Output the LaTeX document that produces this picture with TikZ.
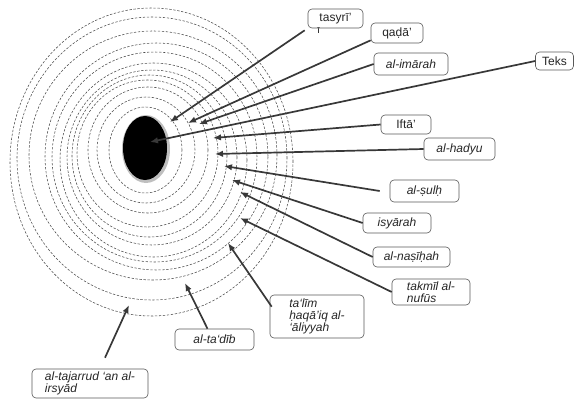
\documentclass[tikz,border=0pt]{standalone}
\usepackage{fontspec}
\setmainfont{Liberation Sans}
\usetikzlibrary{arrows.meta}

\newcommand{\tagfont}{\fontsize{12}{12}\selectfont}

\begin{document}
\begin{tikzpicture}[x=1pt,y=-1pt]
	\tikzset{ring/.style={draw=black!70, line width=0.55pt, dash pattern=on 2.4pt off 1.6pt}}
	\tikzset{tag/.style={draw=black!65, line width=0.6pt, rounded corners=4pt, fill=white,
			inner xsep=3pt, inner ysep=1pt, text=black!85, align=left, font=\tagfont}}
	\tikzset{itag/.style={tag, font=\tagfont\itshape}}
	\tikzset{pointer/.style={draw=black!78, line width=1.7pt, -{Latex[length=8pt,width=6.5pt]}}}
	\useasboundingbox (0,0) rectangle (574,399);
	% dashed rings round the core
	\foreach \cx/\cy/\rx/\ry in {145.5/150/36.5/43, 146/150/49/53, 148/150/60/63,
			147.5/153.5/70.5/73.5, 149.5/156/77.5/81, 152/157.5/85/87.5, 153.5/160/93.5/97,
			154.5/157/102.5/105, 156.5/156.5/111.5/113.5, 153/155.5/124/124.5,
			152/158.5/135/141.5, 151.5/162/141.5/154}
	\draw[ring] (\cx,\cy) ellipse [x radius=\rx pt, y radius=\ry pt];
	% core
	\fill[black!25] (146,149) ellipse [x radius=24pt, y radius=34pt];
	\fill[black] (145,148) ellipse [x radius=22pt, y radius=32pt];
	% labels
	\node[tag, minimum width=55pt, minimum height=19pt,
		label={[inner sep=0pt, font=\fontsize{9}{9}\selectfont, xshift=-17pt, yshift=1pt]below:ī}]
		(tasyri) at (335.5,18.5) {tasyrī’};
	\node[tag, minimum width=52pt, minimum height=20pt] (qada) at (397,33) {qaḍā’};
	\node[itag, minimum width=74pt, minimum height=22pt] (imarah) at (411,64) {al-imārah};
	\node[tag, minimum width=38pt, minimum height=18pt] (teks) at (554.5,61) {Teks};
	\node[tag, minimum width=50pt, minimum height=19pt] (ifta) at (406,124.5) {Iftā’};
	\node[itag, minimum width=71pt, minimum height=22pt] (hadyu) at (459.5,149) {al-hadyu};
	\node[itag, minimum width=69pt, minimum height=22pt] (sulh) at (424.5,191) {al-ṣulḥ};
	\node[itag, minimum width=68pt, minimum height=20pt] (isyarah) at (397,223) {isyārah};
	\node[itag, minimum width=77pt, minimum height=20pt] (nasihah) at (411.5,257) {al-naṣīḥah};
	\node[itag, minimum width=78pt, minimum height=26pt] (takmil) at (431,292) {takmīl al-\\nufūs};
	\node[itag, minimum width=94pt, minimum height=43pt] (talim) at (317,316.5) {ta‘līm\\ḥaqā’iq al-\\‘āliyyah};
	\node[itag, minimum width=79pt, minimum height=21pt] (tadib) at (214.5,339.5) {al-ta‘dīb};
	\node[itag, minimum width=116pt, minimum height=29pt] (tajarrud) at (90,383.5) {al-tajarrud ‘an al-\\irsyād};
	% arrow tips on the rings
	\coordinate (tasyri tip) at (170,122);
	\coordinate (qada tip) at (188,123);
	\coordinate (imarah tip) at (199,124);
	\coordinate (teks tip) at (150,142);
	\coordinate (ifta tip) at (213,138);
	\coordinate (hadyu tip) at (215,154);
	\coordinate (sulh tip) at (224,166);
	\coordinate (isyarah tip) at (232,180);
	\coordinate (nasihah tip) at (240,192);
	\coordinate (takmil tip) at (240,218);
	\coordinate (talim tip) at (228,243);
	\coordinate (tadib tip) at (185,283);
	\coordinate (tajarrud tip) at (129,305);
	% arrows
	\draw[pointer] ([xshift=-3pt,yshift=-2pt]tasyri.south west) -- (tasyri tip);
	\draw[pointer] ([yshift=3pt]qada.south west) -- (qada tip);
	\draw[pointer] (imarah.west) -- (imarah tip);
	\draw[pointer] (teks.west) -- (teks tip);
	\draw[pointer] (ifta.west) -- (ifta tip);
	\draw[pointer] (hadyu.west) -- (hadyu tip);
	\draw[pointer] ([xshift=-10pt]sulh.west) -- (sulh tip);
	\draw[pointer] (isyarah.west) -- (isyarah tip);
	\draw[pointer] (nasihah.west) -- (nasihah tip);
	\draw[pointer] (takmil.west) -- (takmil tip);
	\draw[pointer] ([xshift=2pt,yshift=-12pt]talim.north west) -- (talim tip);
	\draw[pointer] ([xshift=-7pt]tadib.north) -- (tadib tip);
	\draw[pointer] ([xshift=15pt,yshift=11pt]tajarrud.north) -- (tajarrud tip);
\end{tikzpicture}
\end{document}
